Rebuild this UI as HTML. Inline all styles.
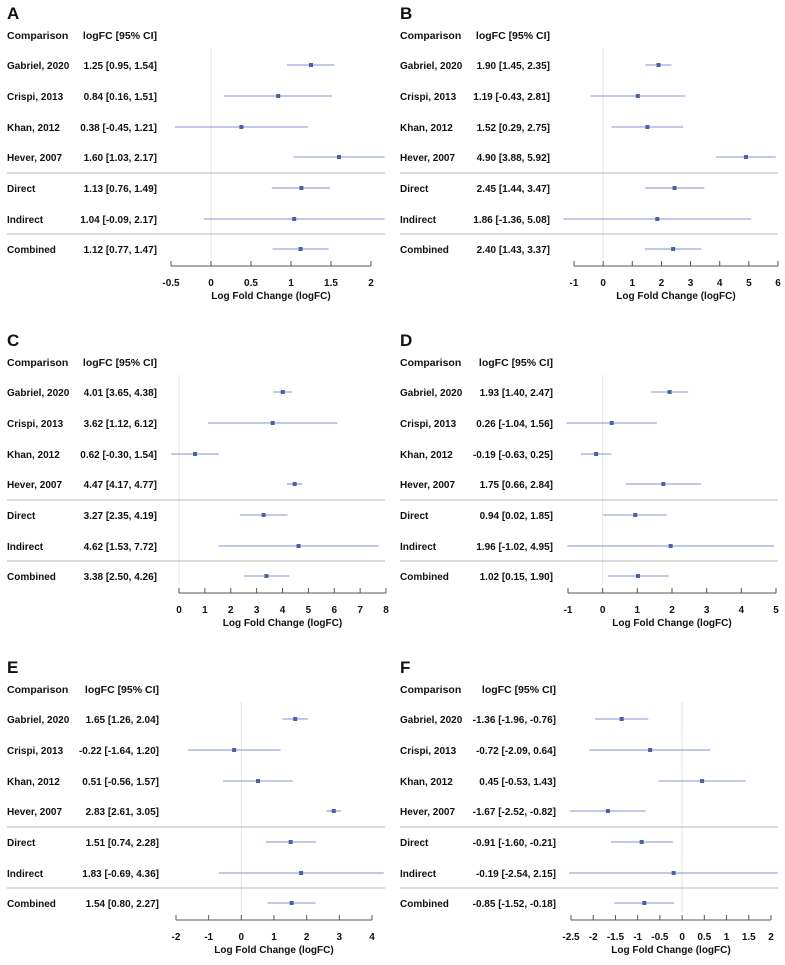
<!DOCTYPE html>
<html><head><meta charset="utf-8"><style>
body{margin:0;background:#fff;font-family:"Liberation Sans",Arial,sans-serif}
svg text{font-family:"Liberation Sans",Arial,sans-serif;font-weight:bold;fill:#111}
</style></head><body>
<svg id="chart" width="785" height="960" viewBox="0 0 785 960" xmlns="http://www.w3.org/2000/svg"></svg>
<script>
const rowLabels = ["Gabriel, 2020","Crispi, 2013","Khan, 2012","Hever, 2007","Direct","Indirect","Combined"];
const estA = [1.25,0.84,0.38,1.60,1.13,1.04,1.12];
const loA  = [0.95,0.16,-0.45,1.03,0.76,-0.09,0.77];
const hiA  = [1.54,1.51,1.21,2.17,1.49,2.17,1.47];
const estB = [1.90,1.19,1.52,4.90,2.45,1.86,2.40];
const loB  = [1.45,-0.43,0.29,3.88,1.44,-1.36,1.43];
const hiB  = [2.35,2.81,2.75,5.92,3.47,5.08,3.37];
const estC = [4.01,3.62,0.62,4.47,3.27,4.62,3.38];
const loC  = [3.65,1.12,-0.30,4.17,2.35,1.53,2.50];
const hiC  = [4.38,6.12,1.54,4.77,4.19,7.72,4.26];
const estD = [1.93,0.26,-0.19,1.75,0.94,1.96,1.02];
const loD  = [1.40,-1.04,-0.63,0.66,0.02,-1.02,0.15];
const hiD  = [2.47,1.56,0.25,2.84,1.85,4.95,1.90];
const estE = [1.65,-0.22,0.51,2.83,1.51,1.83,1.54];
const loE  = [1.26,-1.64,-0.56,2.61,0.74,-0.69,0.80];
const hiE  = [2.04,1.20,1.57,3.05,2.28,4.36,2.27];
const estF = [-1.36,-0.72,0.45,-1.67,-0.91,-0.19,-0.85];
const loF  = [-1.96,-2.09,-0.53,-2.52,-1.60,-2.54,-1.52];
const hiF  = [-0.76,0.64,1.43,-0.82,-0.21,2.15,-0.18];
const ticksA = [-0.5,0,0.5,1,1.5,2];
const ticksB = [-1,0,1,2,3,4,5,6];
const ticksC = [0,1,2,3,4,5,6,7,8];
const ticksD = [-1,0,1,2,3,4,5];
const ticksE = [-2,-1,0,1,2,3,4];
const ticksF = [-2.5,-2,-1.5,-1,-0.5,0,0.5,1,1.5,2];

const NS="http://www.w3.org/2000/svg";
const svg=document.getElementById('chart');
function mk(tag,attrs,parent){const e=document.createElementNS(NS,tag);for(const k in attrs)e.setAttribute(k,attrs[k]);(parent||svg).appendChild(e);return e;}
function fmt(v){return v.toFixed(2);}

const panels=[
 {id:'A',ox:0,oy:0,est:estA,lo:loA,hi:hiA,ticks:ticksA,x0:171,x1:371,ciR:157,right:385},
 {id:'B',ox:393,oy:0,est:estB,lo:loB,hi:hiB,ticks:ticksB,x0:574,x1:778,ciR:550,right:778},
 {id:'C',ox:0,oy:327,est:estC,lo:loC,hi:hiC,ticks:ticksC,x0:179,x1:386,ciR:157,right:385},
 {id:'D',ox:393,oy:327,est:estD,lo:loD,hi:hiD,ticks:ticksD,x0:568,x1:776,ciR:553,right:778},
 {id:'E',ox:0,oy:654,est:estE,lo:loE,hi:hiE,ticks:ticksE,x0:176,x1:372,ciR:159,right:385},
 {id:'F',ox:393,oy:654,est:estF,lo:loF,hi:hiF,ticks:ticksF,x0:571,x1:771,ciR:556,right:778}
];
const rowY=[65,96,127,157,188,219,249];

panels.forEach(p=>{
  const g=mk('g',{});
  
  
  const tmin=p.ticks[0],tmax=p.ticks[p.ticks.length-1];
  const sx=v=>p.x0+(v-tmin)/(tmax-tmin)*(p.x1-p.x0);
  const lx=p.ox+7;
  const clipId='clip'+p.id;
  const cp=mk('clipPath',{id:clipId},g);
  mk('rect',{x:lx,y:p.oy,width:p.right-lx,height:270},cp);

  const pl=mk('text',{x:lx,y:p.oy+19,'font-size':17},g);pl.textContent=p.id;
  
  
  const h1=mk('text',{x:lx,y:p.oy+39,'font-size':10.5},g);h1.textContent='Comparison';
  
  
  const h2=mk('text',{x:p.ciR,y:p.oy+39,'font-size':10.5,'text-anchor':'end'},g);h2.textContent='logFC [95% CI]';
  
  

  const zl=mk('line',{x1:sx(0),x2:sx(0),y1:p.oy+48,y2:p.oy+258,stroke:'#e4e4e4','stroke-width':1},g);
  
  
  [173,234].forEach(y=>{
    const s=mk('line',{x1:lx,x2:p.right,y1:p.oy+y,y2:p.oy+y,stroke:'#b8b8b8','stroke-width':1},g);
    
    
  });

  rowLabels.forEach((lab,i)=>{
    const y=p.oy+rowY[i];
    const t=mk('text',{x:lx,y:y+4,'font-size':10},g);t.textContent=lab;
    
    
    const c=mk('text',{x:p.ciR,y:y+4,'font-size':10,'text-anchor':'end'},g);
    c.textContent=fmt(p.est[i])+' ['+fmt(p.lo[i])+', '+fmt(p.hi[i])+']';
    
    
    const l=mk('line',{x1:sx(p.lo[i]),x2:sx(p.hi[i]),y1:y,y2:y,stroke:'#8593cc','stroke-width':1.1,'clip-path':'url(#'+clipId+')'},g);
    
    
    const d=mk('rect',{x:sx(p.est[i])-2,y:y-2,width:4,height:4,fill:'#4a61a6'},g);
    
    
  });

  const ay=p.oy+266;
  const ax=mk('line',{x1:sx(tmin),x2:sx(tmax),y1:ay,y2:ay,stroke:'#555','stroke-width':1},g);
  
  
  p.ticks.forEach(v=>{
    const tk=mk('line',{x1:sx(v),x2:sx(v),y1:ay-5,y2:ay,stroke:'#555','stroke-width':1},g);
    
    
    const tl=mk('text',{x:sx(v),y:ay+20,'font-size':10,'text-anchor':'middle'},g);
    tl.textContent=String(v);
    
    
  });
  const at=mk('text',{x:(sx(tmin)+sx(tmax))/2,y:ay+33,'font-size':10,'text-anchor':'middle'},g);
  at.textContent='Log Fold Change (logFC)';
  
  
});
</script>
</body></html>
